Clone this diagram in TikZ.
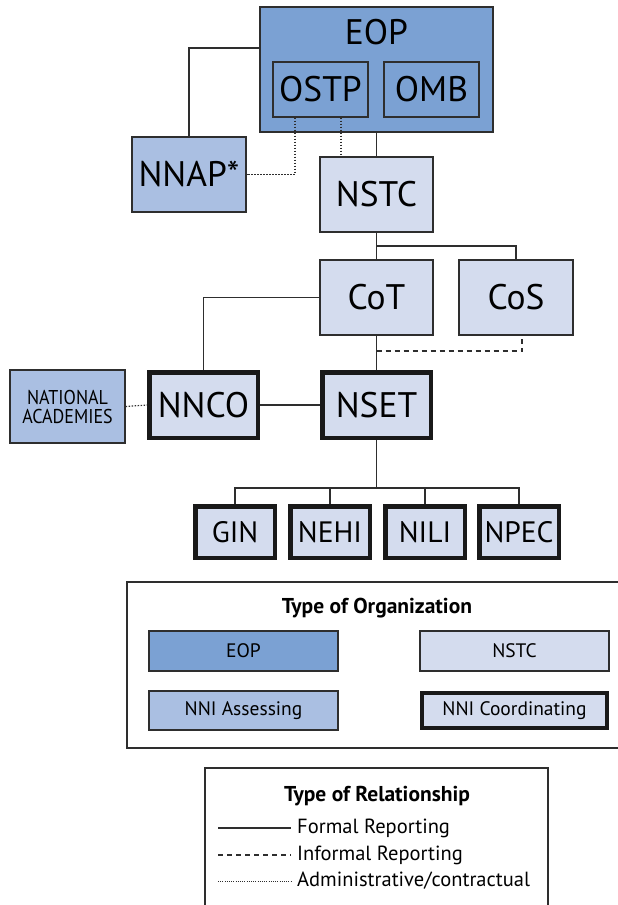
\documentclass[tikz,border=0pt]{standalone}
\usepackage{fontspec}
\setmainfont{PT Sans}
\definecolor{eopc}{HTML}{7BA1D3}
\definecolor{nnac}{HTML}{AABFE2}
\definecolor{nstcc}{HTML}{D4DCEE}
\definecolor{bordc}{HTML}{2E2E2E}
\begin{document}
\begin{tikzpicture}[x=1pt,y=-1pt,
  box/.style={draw=bordc,line width=1.3pt,inner sep=0pt,anchor=center},
  thickbox/.style={draw=black!90,line width=4.5pt,inner sep=0pt,anchor=center,fill=nstcc},
  big/.style={font=\fontsize{35.5}{38}\selectfont},
  mid/.style={font=\fontsize{29.5}{32}\selectfont},
  small/.style={font=\fontsize{19.5}{22}\selectfont},
  formal/.style={draw=bordc,line width=1.2pt},
  informal/.style={draw=bordc,line width=1.2pt,dash pattern=on 5pt off 4pt},
  admin/.style={draw=bordc,line width=1.2pt,dash pattern=on 1.5pt off 1.5pt}]
\useasboundingbox (0,0) rectangle (618,905);
% top
\node[box,fill=eopc,minimum width=233,minimum height=125] (eop) at (376.5,69.5) {};
\node[big] (eoplbl) at (376.5,32) {EOP};
\node[box,fill=eopc,minimum width=95,minimum height=55,big] (ostp) at (320.5,89.5) {OSTP};
\node[box,fill=eopc,minimum width=95,minimum height=55,big] (omb) at (431.5,89.5) {OMB};
\node[box,fill=nnac,minimum width=114,minimum height=75,big] (nnap) at (189,174.5) {NNAP*};
\node[box,fill=nstcc,minimum width=113,minimum height=75,big] (nstc) at (376.5,194.5) {NSTC};
\node[box,fill=nstcc,minimum width=113,minimum height=75,big] (cot) at (376.5,297.5) {CoT};
\node[box,fill=nstcc,minimum width=114,minimum height=75,big] (cos) at (516,297.5) {CoS};
\node[box,fill=nnac,minimum width=115,minimum height=73,align=center,font=\fontsize{20}{22}\selectfont] (na) at (67.5,406.5) {\scalebox{0.9}[1]{NATIONAL}\\[-3pt]\scalebox{0.9}[1]{ACADEMIES}};
\node[thickbox,minimum width=108.5,minimum height=65.5,big] (nnco) at (203.5,405) {NNCO};
\node[thickbox,minimum width=108.5,minimum height=65.5,big] (nset) at (376.5,405) {NSET};
\node[thickbox,minimum width=79.5,minimum height=51.5,mid] (gin) at (235,532) {GIN};
\node[thickbox,minimum width=79.5,minimum height=51.5,mid] (nehi) at (330,532) {NEHI};
\node[thickbox,minimum width=79.5,minimum height=51.5,mid] (nili) at (425,532) {NILI};
\node[thickbox,minimum width=79.5,minimum height=51.5,mid] (npec) at (519,532) {NPEC};
% connectors
\draw[formal] ([yshift=21.5pt]eop.west) -| (nnap.north);
\draw[formal] (eop.south) -- (nstc.north);
\draw[admin] ([xshift=-25.5pt]ostp.south) |- (nnap.east);
\draw[admin] ([xshift=20.5pt]ostp.south) -- ([xshift=20.5pt]ostp.south |- nstc.north);
\coordinate (j1) at (376.5,246);
\draw[formal] (nstc.south) -- (cot.north);
\draw[formal] (j1) -| (cos.north);
\draw[formal] (cot.west) -| (nnco.north);
\draw[formal] (cot.south) -- (nset.north);
\coordinate (j2) at (376.5,351);
\draw[informal] (j2) -| ([xshift=6pt]cos.south);
\draw[formal] (nnco.east) -- (nset.west);
\draw[admin] (na.east) -- (nnco.west);
\coordinate (j3) at (376.5,488);
\draw[formal] (nset.south) -- (j3);
\draw[formal] (gin.north) |- (j3) -| (npec.north);
\draw[formal] (nehi.north) -- (nehi.north |- j3);
\draw[formal] (nili.north) -- (nili.north |- j3);
% legend 1
\draw[draw=bordc,line width=1.2pt] (625,582) -- (127,582) -- (127,748) -- (625,748);
\node[font=\fontsize{21.5}{24}\selectfont\bfseries] (t1) at (377,608) {Type of Organization};
\node[box,fill=eopc,minimum width=189,minimum height=40,small] (leop) at (243.5,651) {EOP};
\node[box,fill=nstcc,minimum width=189,minimum height=40,small] (lnstc) at (514.5,651) {NSTC};
\node[box,fill=nnac,minimum width=189,minimum height=39,small] (lnna) at (243.5,710.5) {NNI Assessing};
\node[thickbox,minimum width=185,minimum height=35,small] (lnnc) at (514.5,710.5) {NNI Coordinating};
% legend 2
\draw[draw=bordc,line width=1.2pt] (205,910) -- (205,768) -- (548,768) -- (548,910);
\node[font=\fontsize{21.5}{24}\selectfont\bfseries] (t2) at (377,796) {Type of Relationship};
\coordinate (a1) at (218,828); \coordinate (b1) at (291,828);
\coordinate (a2) at (218,855); \coordinate (b2) at (291,855);
\coordinate (a3) at (218,881); \coordinate (b3) at (291,881);
\draw[formal] (a1) -- (b1);
\draw[informal] (a2) -- (b2);
\draw[admin,line width=0.9pt,dash pattern=on 1pt off 1.2pt] (a3) -- (b3);
\node[font=\fontsize{20.5}{23}\selectfont,anchor=west,inner sep=0pt] (l1) at (297,828) {Formal Reporting};
\node[font=\fontsize{20.5}{23}\selectfont,anchor=west,inner sep=0pt] (l2) at (297,855) {Informal Reporting};
\node[font=\fontsize{20.5}{23}\selectfont,anchor=west,inner sep=0pt] (l3) at (297,881) {Administrative/contractual};
\end{tikzpicture}
\end{document}
